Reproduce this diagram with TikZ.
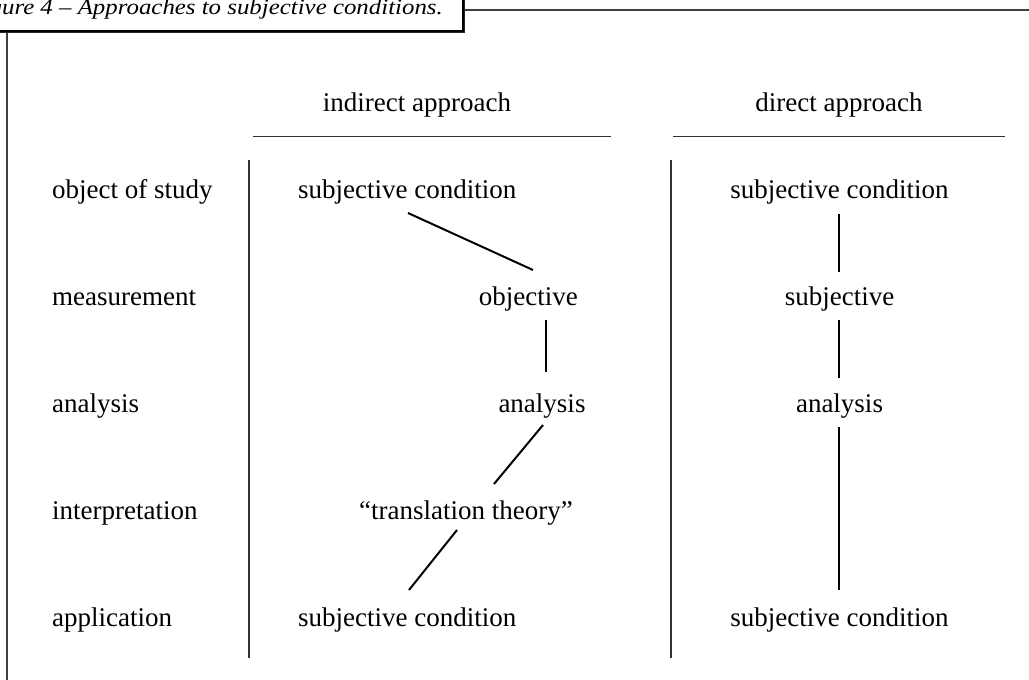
\documentclass[tikz,border=0pt]{standalone}
\usepackage{fontspec}
\setmainfont{Liberation Serif}
\begin{document}
\begin{tikzpicture}[x=1pt,y=-1pt,
  txt/.style={inner sep=0pt,font=\fontsize{27}{31}\selectfont},
  rule/.style={line width=1.5pt,draw=black!80},
  link/.style={line width=2pt,draw=black},
  frameline/.style={line width=1.5pt,draw=black!75}]
\useasboundingbox (0,0) rectangle (1029,680);
% frame and title box
\coordinate (ftl) at (463,10);
\coordinate (ftr) at (1029,10);
\coordinate (flt) at (7,31);
\coordinate (flb) at (7,680);
\draw[frameline] (ftl) -- (ftr);
\draw[frameline] (flt) -- (flb);
\fill[black!85] (-60,-10) rectangle (465,33);
\draw[line width=1.2pt,draw=black,fill=white] (-60,-10) rectangle (463,31);
\node[inner sep=0pt,anchor=base east,font=\fontsize{22}{26}\selectfont\itshape] (title) at (443,14.5) {\scalebox{1.13}[1]{Figure 4 – Approaches to subjective conditions.}};
% headers
\node[txt,anchor=base] (hind) at (417,111) {indirect approach};
\node[txt,anchor=base] (hdir) at (839,111) {direct approach};
\coordinate (u1a) at (253,136.5); \coordinate (u1b) at (611,136.5);
\coordinate (u2a) at (673,136.5); \coordinate (u2b) at (1005,136.5);
\draw[rule] (u1a) -- (u1b);
\draw[rule] (u2a) -- (u2b);
% separators
\coordinate (s1a) at (249,160); \coordinate (s1b) at (249,658);
\coordinate (s2a) at (671,160); \coordinate (s2b) at (671,658);
\draw[rule] (s1a) -- (s1b);
\draw[rule] (s2a) -- (s2b);
% row labels
\node[txt,anchor=base west] (r1) at (52,198) {object of study};
\node[txt,anchor=base west] (r2) at (52,305) {measurement};
\node[txt,anchor=base west] (r3) at (52,412) {analysis};
\node[txt,anchor=base west] (r4) at (52,519) {interpretation};
\node[txt,anchor=base west] (r5) at (52,626) {application};
% indirect column
\node[txt,anchor=base west] (i1) at (298,198) {subjective condition};
\node[txt,anchor=base east] (i2) at (578,305) {objective};
\node[txt,anchor=base] (i3) at (542,412) {analysis};
\node[txt,anchor=base] (i4) at (466,519) {“translation theory”};
\node[txt,anchor=base west] (i5) at (298,626) {subjective condition};
\coordinate (l1a) at (408,213); \coordinate (l1b) at (533,270);
\coordinate (l2a) at (546,320); \coordinate (l2b) at (546,372);
\coordinate (l3a) at (543,425); \coordinate (l3b) at (494,484);
\coordinate (l4a) at (457,530); \coordinate (l4b) at (409,590);
\draw[link] (l1a) -- (l1b);
\draw[link] (l2a) -- (l2b);
\draw[link] (l3a) -- (l3b);
\draw[link] (l4a) -- (l4b);
% direct column
\node[txt,anchor=base] (d1) at (839.5,198) {subjective condition};
\node[txt,anchor=base] (d2) at (839.5,305) {subjective};
\node[txt,anchor=base] (d3) at (839.5,412) {analysis};
\node[txt,anchor=base] (d5) at (839.5,626) {subjective condition};
\coordinate (m1a) at (839,214); \coordinate (m1b) at (839,272);
\coordinate (m2a) at (839,320); \coordinate (m2b) at (839,378);
\coordinate (m3a) at (839,427); \coordinate (m3b) at (839,590);
\draw[link] (m1a) -- (m1b);
\draw[link] (m2a) -- (m2b);
\draw[link] (m3a) -- (m3b);
\end{tikzpicture}
\end{document}
